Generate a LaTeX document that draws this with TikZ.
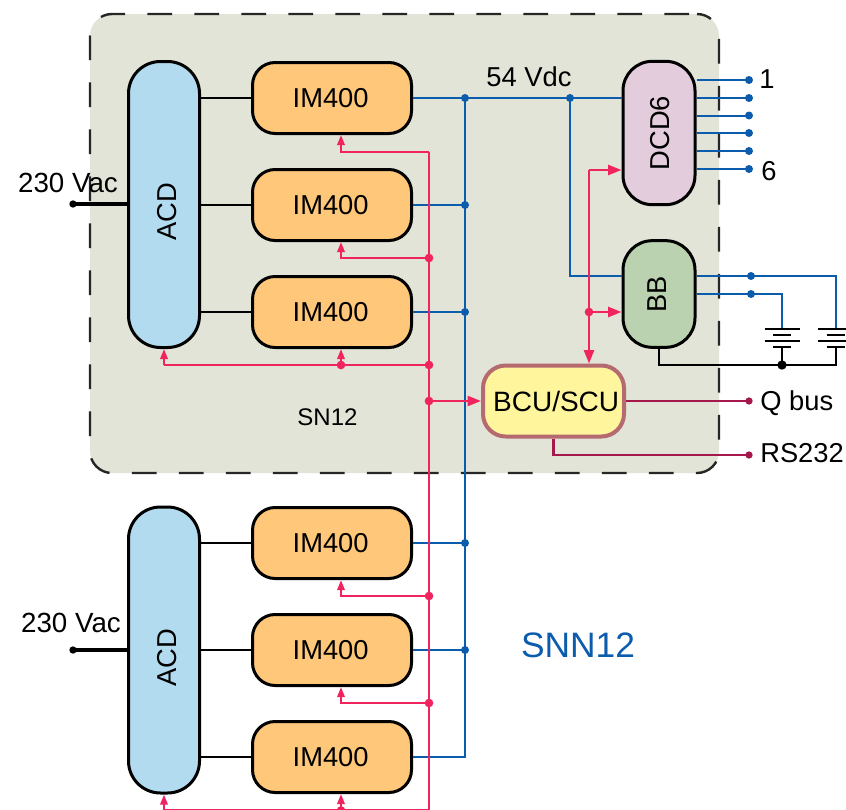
\documentclass[tikz,border=0pt]{standalone}
\usepackage{fontspec}
\setmainfont{Liberation Sans}
\usetikzlibrary{arrows.meta, calc}
\definecolor{snfill}{HTML}{E1E4D6}
\definecolor{acdfill}{HTML}{B3DBF0}
\definecolor{imfill}{HTML}{FFC77A}
\definecolor{dcdfill}{HTML}{E3CCDB}
\definecolor{bbfill}{HTML}{BBD2B0}
\definecolor{bcufill}{HTML}{FFF59D}
\definecolor{bculine}{HTML}{B56A6F}
\definecolor{dcblue}{HTML}{0B5CAD}
\definecolor{ctlpink}{HTML}{F0245F}
\definecolor{busred}{HTML}{A6174C}
\begin{document}
\begin{tikzpicture}[x=0.75pt, y=-0.75pt,
    lbl/.style={font=\fontsize{20.5}{24}\selectfont, text=black, inner sep=0pt},
    unit/.style={lbl, draw=black, line width=2.25pt, inner sep=0pt},
    acdbox/.style={unit, fill=acdfill, rounded corners=24pt, minimum width=53.25pt, minimum height=214.5pt},
    imbox/.style={unit, fill=imfill, rounded corners=17pt, minimum width=119.25pt, minimum height=53.25pt, execute at begin node=\hspace*{-2pt}},
    dcdbox/.style={unit, fill=dcdfill, rounded corners=22pt, minimum width=54pt, minimum height=107.5pt},
    bbbox/.style={unit, fill=bbfill, rounded corners=22pt, minimum width=54pt, minimum height=80pt},
    bcubox/.style={unit, fill=bcufill, draw=bculine, line width=3pt, rounded corners=17pt, minimum width=105.75pt, minimum height=53.25pt, font=\fontsize{21}{24}\selectfont},
    snbox/.style={fill=snfill, draw=black!85, line width=1.8pt, dash pattern=on 18.4pt off 16.85pt, dash phase=29.25pt, rounded corners=16.5pt, minimum width=471.75pt, minimum height=344.25pt},
    blackwire/.style={draw=black, line width=1.5pt},
    acwire/.style={draw=black, line width=3pt},
    bluewire/.style={draw=dcblue, line width=1.5pt},
    pinkwire/.style={draw=ctlpink, line width=1.6pt},
    pinkarrow/.style={pinkwire, -{Triangle[length=7.5pt, width=5.5pt]}},
    pinkbig/.style={pinkwire, -{Triangle[length=10pt, width=7.5pt]}},
    redwire/.style={draw=busred, line width=1.6pt},
    bluedot/.style={circle, fill=dcblue, inner sep=0pt, minimum size=6pt},
    pinkdot/.style={circle, fill=ctlpink, inner sep=0pt, minimum size=6.5pt},
    reddot/.style={circle, fill=busred, inner sep=0pt, minimum size=5.5pt},
    blackdot/.style={circle, fill=black, inner sep=0pt, minimum size=7pt}
]
\useasboundingbox (0,0) rectangle (846,810);
\node[snbox] (sn) at (404.5,243.5) {};
\node[acdbox] (acd1) at (164,204.5) {};
\node[acdbox] (acd2) at (164,650) {};
\node[imbox] (im1) at (332,98) {IM400};
\node[imbox] (im2) at (332,205) {IM400};
\node[imbox] (im3) at (332,312) {IM400};
\node[imbox] (im4) at (332,543) {IM400};
\node[imbox] (im5) at (332,650) {IM400};
\node[imbox] (im6) at (332,757) {IM400};
\node[dcdbox] (dcd) at (659,133) {};
\node[bbbox] (bb) at (659,294) {};
\node[bcubox] (bcu) at (553.5,401) {\hspace*{4pt}BCU/SCU};
\node[lbl, rotate=90] (acdlbl1) at (167,212) {ACD};
\node[lbl, rotate=90] (acdlbl2) at (167,658) {ACD};
\node[lbl, rotate=90] (dcdlbl) at (660,133) {DCD6};
\node[lbl, rotate=90] (bblbl) at (657,294) {BB};
\node[lbl] (vdc) at (529,77) {54 Vdc};
\node[lbl, font=\fontsize{18}{21}\selectfont] (snlbl) at (327.5,417) {SN12};
\node[lbl, font=\fontsize{26.5}{32}\selectfont, text=dcblue] (snnlbl) at (578,645) {SNN12};
\node[lbl, font=\fontsize{20.8}{24}\selectfont] (vac1) at (68,183) {230 Vac};
\node[lbl, font=\fontsize{20.8}{24}\selectfont] (vac2) at (71,623) {230 Vac};
\node[lbl, anchor=west] (out1) at (759,79) {1};
\node[lbl, anchor=west] (out6) at (761,171) {6};
\node[lbl, anchor=west] (qbus) at (760,403) {Q bus};
\node[lbl, anchor=west] (rs) at (760,453) {RS232};
\coordinate (in1) at (73,204);
\coordinate (in2) at (73,650);
\coordinate (j1) at (465,98);
\coordinate (j2) at (465,205);
\coordinate (j3) at (465,312);
\coordinate (j4) at (465,543);
\coordinate (j5) at (465,650);
\coordinate (jend) at (465,757);
\coordinate (jvdc) at (570,98);
\coordinate (p1) at (429,152);
\coordinate (p2) at (429,258);
\coordinate (p3) at (429,365);
\coordinate (p4) at (429,401);
\coordinate (p5) at (429,596);
\coordinate (p6) at (429,703);
\coordinate (pend) at (429,811);
\coordinate (q1) at (341,365);
\coordinate (q2) at (341,810.5);
\coordinate (q3) at (429,810.5);
\coordinate (s1) at (589,170);
\coordinate (s2) at (589,312);
\coordinate (bb1) at (751,276);
\coordinate (bb2) at (751,294);
\coordinate (bat1) at (782,329);
\coordinate (bat2) at (835.5,329);
\coordinate (gnd) at (782,365);
\coordinate (qend) at (749,401);
\coordinate (rsend) at (749,455);
% mains
\foreach \i in {1,2}
    \draw[acwire] (in\i) -- (in\i -| acd\i.west);
\foreach \i in {1,2,3}
    \draw[blackwire] (im\i.west -| acd1.east) -- (im\i.west);
\foreach \i in {4,5,6}
    \draw[blackwire] (im\i.west -| acd2.east) -- (im\i.west);
% 54 V
\draw[bluewire] (j1) -- (jend) -- (im6.east);
\draw[bluewire] (im1.east) -- (im1.east -| dcd.west);
\foreach \i in {2,3,4,5}
    \draw[bluewire] (im\i.east) -- (j\i);
\draw[bluewire] (jvdc) |- (bb.west |- bb1);
\foreach \i/\y in {1/80,2/98,3/115.5,4/133,5/151,6/169} {
    \coordinate (t\i) at (749,\y);
    \draw[bluewire] (dcd.east |- t\i) -- (t\i);
}
\draw[bluewire] (bb.east |- bb1) -- (bb1) -| (bat2);
\draw[bluewire] (bb.east |- bb2) -- (bb2) -| (bat1);
% batteries
\foreach \b in {bat1,bat2} {
    \draw[blackwire] ($(\b)+(-17.5,0)$) -- ($(\b)+(17.5,0)$);
    \draw[blackwire] ($(\b)+(-9,6)$) -- ($(\b)+(9,6)$);
    \draw[blackwire] ($(\b)+(-17.5,12)$) -- ($(\b)+(17.5,12)$);
    \draw[blackwire] ($(\b)+(-9,18)$) -- ($(\b)+(9,18)$);
}
\draw[blackwire] (bb.south) -- (bb.south |- gnd) -- (gnd -| bat2) -- ($(bat2)+(0,18)$);
\draw[blackwire] ($(bat1)+(0,18)$) -- (gnd);
% control
\draw[pinkwire] (p1) -- (pend);
\draw[pinkarrow] (p1) -- (p1 -| q1) -- (q1 |- im1.south);
\draw[pinkarrow] (p2) -- (p2 -| q1) -- (q1 |- im2.south);
\draw[pinkwire] (p3) -- (p3 -| acd1.south);
\draw[pinkarrow] (q1) -- (q1 |- im3.south);
\draw[pinkarrow] (p3 -| acd1.south) -- (acd1.south);
\draw[pinkbig] (p4) -- (p4 -| bcu.west);
\draw[pinkarrow] (p5) -- (p5 -| q1) -- (q1 |- im4.south);
\draw[pinkarrow] (p6) -- (p6 -| q1) -- (q1 |- im5.south);
\draw[pinkwire] (q3) -- (q3 -| acd2.south);
\draw[pinkarrow] (q2) -- (q2 |- im6.south);
\draw[pinkarrow] (q3 -| acd2.south) -- (acd2.south);
\draw[pinkbig] (s1) -- (s1 -| dcd.west);
\draw[pinkbig] (s1) -- (s1 |- bcu.north);
\draw[pinkbig] (s2) -- (s2 -| bb.west);
% buses
\draw[redwire] (bcu.east) -- (qend);
\draw[redwire] (bcu.south) -- (bcu.south |- rsend) -- (rsend);
\foreach \c in {j1,j2,j3,j4,j5,jvdc,bb1,bb2,t1,t2,t3,t4,t5,t6}
    \node[bluedot] (dot\c) at (\c) {};
\foreach \c in {p2,p3,p4,p5,p6,q1,q2,s2}
    \node[pinkdot] (dot\c) at (\c) {};
\foreach \c in {qend,rsend}
    \node[reddot] (dot\c) at (\c) {};
\node[blackdot] (dotgnd) at (gnd) {};
\node[blackdot, minimum size=5.5pt] (dotin1) at (in1) {};
\node[blackdot, minimum size=5.5pt] (dotin2) at (in2) {};
\end{tikzpicture}
\end{document}
